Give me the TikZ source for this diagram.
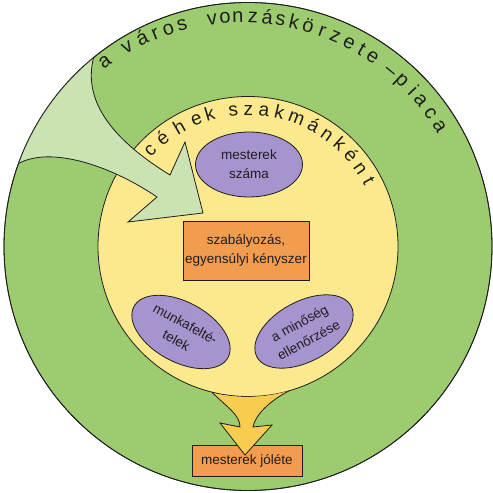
\documentclass[tikz,border=0pt]{standalone}
\usepackage{fontspec}
\setmainfont{Liberation Sans}
\usetikzlibrary{shapes.geometric}
\definecolor{ringgreen}{HTML}{9DCB6F}
\definecolor{palegreen}{HTML}{CBE3B3}
\definecolor{guildyellow}{HTML}{FCE98D}
\definecolor{funnelyellow}{HTML}{F8CD4F}
\definecolor{boxorange}{HTML}{F29C50}
\definecolor{ovalpurple}{HTML}{A694CE}
\definecolor{ink}{HTML}{1E1E1E}
\begin{document}
\begin{tikzpicture}[x=1pt,y=1pt,line width=0.8pt,
  box/.style={draw=ink, fill=boxorange, text=ink, align=center, inner sep=0pt, font=\fontsize{13.5}{19}\selectfont},
  oval/.style={draw=ink, ellipse, fill=ovalpurple, text=ink, align=center, inner sep=0pt, minimum width=107pt, minimum height=60pt, font=\fontsize{13.5}{19}\selectfont},
  ring/.style={circle, draw=ink, inner sep=0pt, outer sep=0pt},
  lab/.style={text=ink, anchor=mid, inner sep=0pt}]
\useasboundingbox (0,0) rectangle (493,493);
\coordinate (C) at (248,246.5);
\coordinate (T) at (242,243);

\node[ring, fill=ringgreen, minimum size=488pt] (town) at (C) {};
\node[ring, fill=guildyellow, minimum size=300pt] (guild) at (C) {};

\node[box, minimum width=110pt, minimum height=31pt] (wealth) at (247,32.5) {mesterek jóléte};

% funnel from the guilds down to the masters
\fill[funnelyellow] (guild.256.3) .. controls (228,85) and (240,78) .. (240,66) -- (220,70) -- (245,38)
  -- (272,68) -- (253,66) .. controls (256,81) and (275,95) .. (guild.286.5)
  arc[start angle=286.5, end angle=256.3, radius=150] -- cycle;
\draw[ink] (guild.256.3) .. controls (228,85) and (240,78) .. (240,66) -- (220,70) -- (245,38)
  -- (272,68) -- (253,66) .. controls (256,81) and (275,95) .. (guild.286.5);

% market pressure coming in from the town
\begin{scope}
\clip (C) circle (244);
\filldraw[draw=ink, fill=palegreen] (104,463) -- (97,446) .. controls (80,403) and (100,361) .. (170,318)
  -- (185,351) -- (203,280) -- (128,271) -- (157,296) .. controls (110,328) and (45,350) .. (13,326)
  -- (0,316) -- (0,463) -- cycle;
\end{scope}
\draw[ink] (C) circle (244);

\foreach \ch/\ang in {a/126.1, v/119.5, á/115.3, r/111.8, o/108.4, s/104.9,
    v/97.4, o/94.2, n/91.0, z/87.3, á/83.8, s/80.5, k/77.1, ö/73.5, r/69.9, z/66.4, e/62.6, t/59.2, e/55.9,
    –/50.3, p/46.6, i/43.0, a/39.9, c/36.0, a/32.0}
  \node[lab, font=\fontsize{20}{20}\selectfont, rotate=\ang-90] at ([shift={(T)}]\ang:230) {\ch};

\foreach \ch/\ang in {c/135.5, é/128.4, h/119.9, e/112.1, k/106.2,
    s/96.2, z/89.8, a/83.3, k/76.8, m/69.2, á/61.5, n/54.8, k/48.2, é/41.5, n/34.9, t/28.5}
  \node[lab, font=\fontsize{19}{19}\selectfont, rotate=\ang-90] at ([shift={(C)}]\ang:134) {\ch};

\node[box, minimum width=126pt, minimum height=59pt] (rule) at (246,242.5) {szabályozás,\\egyensúlyi kényszer};
\node[oval, minimum height=65pt] (count) at (249,328.5) {mesterek\\száma};
\node[oval, rotate=-28.5] (work) at (181,161) {munkafelté-\\telek};
\node[oval, rotate=28.5] (check) at (304,161.5) {a minőség\\ellenőrzése};

\end{tikzpicture}
\end{document}
